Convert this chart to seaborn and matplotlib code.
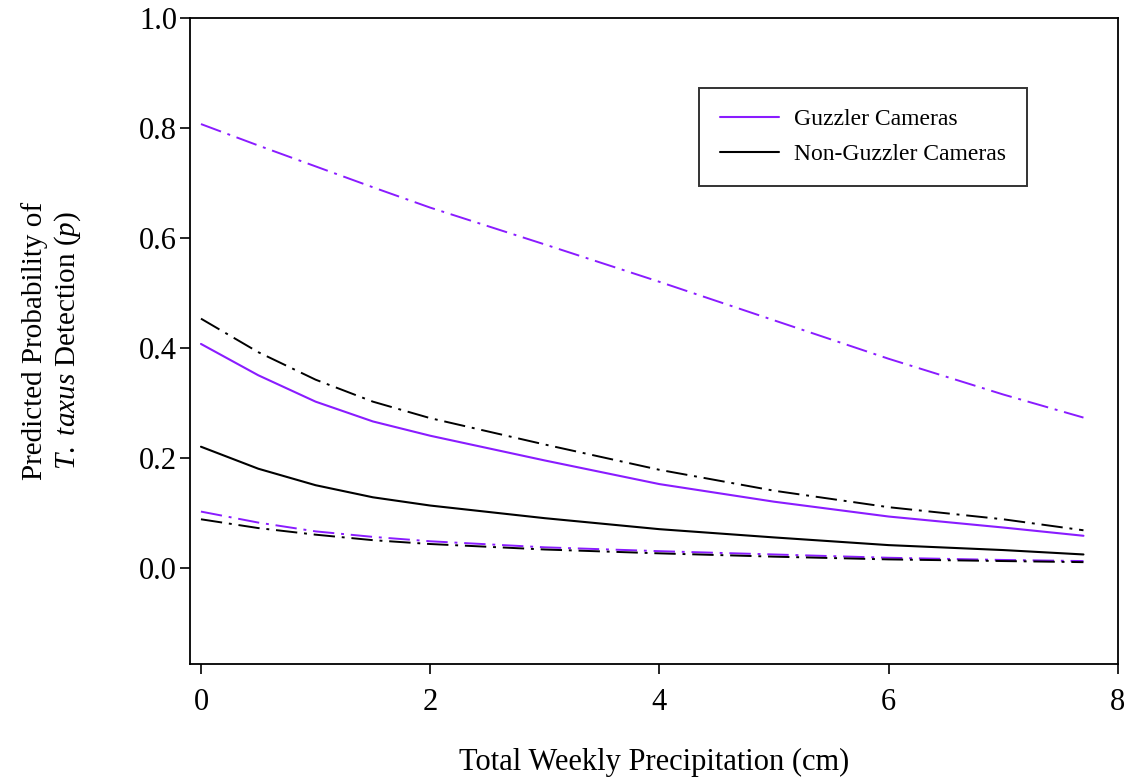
import pandas as pd
import matplotlib
matplotlib.use("Agg")
import matplotlib.pyplot as plt
import seaborn as sns

# Values
precip = [0.0, 0.5, 1.0, 1.5, 2.0, 3.0, 4.0, 5.0, 6.0, 7.0, 7.7]

guz_mean = [0.407, 0.350, 0.302, 0.266, 0.240, 0.195, 0.152, 0.120, 0.093, 0.073, 0.058]
guz_upper = [0.807, 0.768, 0.730, 0.692, 0.655, 0.588, 0.520, 0.450, 0.380, 0.315, 0.273]
guz_lower = [0.102, 0.082, 0.066, 0.056, 0.048, 0.037, 0.030, 0.024, 0.018, 0.014, 0.012]

non_mean = [0.220, 0.180, 0.150, 0.128, 0.113, 0.090, 0.070, 0.055, 0.041, 0.032, 0.024]
non_upper = [0.453, 0.392, 0.342, 0.302, 0.272, 0.224, 0.178, 0.140, 0.110, 0.088, 0.068]
non_lower = [0.088, 0.072, 0.060, 0.050, 0.043, 0.033, 0.026, 0.020, 0.015, 0.012, 0.010]

x_ticks = [0, 2, 4, 6, 8]
y_ticks = [0.0, 0.2, 0.4, 0.6, 0.8, 1.0]

purple = "#8A1CFF"

sns.set_style("ticks")
plt.rcParams['font.family'] = ['Liberation Serif', 'DejaVu Serif']
plt.rcParams['mathtext.fontset'] = 'custom'
plt.rcParams['mathtext.it'] = 'Liberation Serif:italic'
plt.rcParams['mathtext.rm'] = 'Liberation Serif'
for key in ['text.color', 'axes.labelcolor', 'xtick.color', 'ytick.color', 'axes.edgecolor']:
    plt.rcParams[key] = 'black'

fig = plt.figure(figsize=(11.28, 7.81), dpi=100)
ax = fig.add_axes([0.168, 0.150, 0.823, 0.827])

dashdot = (11, 3.5, 1.5, 3.5)

# confidence bounds (dash-dot)
sns.lineplot(x=precip, y=guz_upper, ax=ax, color=purple, lw=1.4)
sns.lineplot(x=precip, y=guz_lower, ax=ax, color=purple, lw=1.4)
sns.lineplot(x=precip, y=non_upper, ax=ax, color="black", lw=1.4)
sns.lineplot(x=precip, y=non_lower, ax=ax, color="black", lw=1.4)
for ln in ax.get_lines():
    ln.set_dashes(dashdot)

# mean predictions (solid)
sns.lineplot(x=precip, y=guz_mean, ax=ax, color=purple, lw=1.5, label="Guzzler Cameras")
sns.lineplot(x=precip, y=non_mean, ax=ax, color="black", lw=1.5, label="Non-Guzzler Cameras")

ax.set_xlim(-0.1, 8)
ax.set_ylim(-0.175, 1.0)
ax.set_xticks(x_ticks)
ax.set_xticklabels([str(t) for t in x_ticks])
ax.set_yticks(y_ticks)
ax.set_yticklabels([f"{t:.1f}" for t in y_ticks])
ax.tick_params(direction="out", length=7.5, width=1.2, labelsize=22, colors="black")
ax.tick_params(axis="x", pad=10)
ax.tick_params(axis="y", pad=1.5)

for s in ax.spines.values():
    s.set_visible(True)
    s.set_linewidth(1.3)
    s.set_color("black")

ax.set_xlabel("Total Weekly Precipitation (cm)", fontsize=22, labelpad=22)
ax.set_ylabel("Predicted Probability of\n$T.$ $taxus$ Detection ($p$)", fontsize=21, labelpad=40)

leg = ax.legend(loc="upper right", bbox_to_anchor=(0.902, 0.892), fontsize=17,
                frameon=True, fancybox=False, handlelength=2.5, borderpad=0.9,
                labelspacing=0.55, handletextpad=0.6, borderaxespad=0)
leg.get_frame().set_edgecolor("black")
leg.get_frame().set_linewidth(1.4)

fig.savefig("out.png", dpi=100, facecolor="white")
